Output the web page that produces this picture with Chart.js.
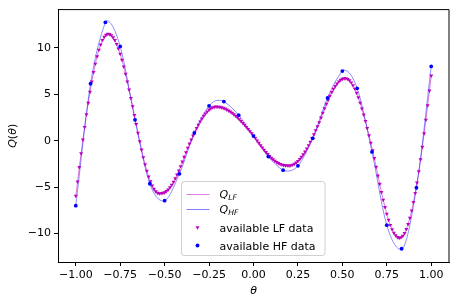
<!DOCTYPE html>
<html>
<head>
<meta charset="utf-8">
<script src="https://cdn.jsdelivr.net/npm/chart.js@4.4.1/dist/chart.umd.min.js"></script>
<style>
  body { margin: 0; background: #fff; }
  canvas { display: block; }
</style>
</head>
<body>
<canvas id="chart" width="457" height="307"></canvas>
<script>
// low fidelity samples, theta from -1 to 1 every 0.01
var lfQ = [
  -5.96, -4.41, -2.86, -1.38, 0.10, 1.47, 2.82, 4.07, 5.26, 6.36,
  7.37, 8.28, 9.08, 9.79, 10.35, 10.84, 11.18, 11.40, 11.50, 11.47,
  11.35, 11.13, 10.82, 10.41, 9.91, 9.34, 8.69, 7.97, 7.19, 6.36,
  5.49, 4.59, 3.68, 2.74, 1.78, 0.83, -0.08, -0.96, -1.79, -2.55,
  -3.25, -3.87, -4.40, -4.85, -5.20, -5.46, -5.62, -5.69, -5.67, -5.63,
  -5.57, -5.44, -5.27, -5.04, -4.77, -4.44, -4.07, -3.67, -3.23, -2.76,
  -2.27, -1.76, -1.25, -0.77, -0.33, 0.11, 0.53, 0.94, 1.34, 1.71,
  2.06, 2.38, 2.66, 2.92, 3.14, 3.33, 3.47, 3.58, 3.64, 3.66,
  3.65, 3.63, 3.58, 3.52, 3.45, 3.35, 3.24, 3.12, 2.98, 2.83,
  2.66, 2.49, 2.30, 2.11, 1.90, 1.69, 1.47, 1.24, 1.01, 0.78,
  0.55, 0.28, 0.01, -0.25, -0.51, -0.76, -1.00, -1.23, -1.45, -1.66,
  -1.85, -2.02, -2.17, -2.31, -2.42, -2.52, -2.59, -2.64, -2.67, -2.68,
  -2.69, -2.67, -2.60, -2.51, -2.38, -2.20, -2.00, -1.76, -1.49, -1.19,
  -0.86, -0.50, -0.12, 0.27, 0.68, 1.11, 1.54, 1.98, 2.48, 2.98,
  3.47, 3.95, 4.40, 4.82, 5.22, 5.57, 5.88, 6.15, 6.37, 6.54,
  6.65, 6.71, 6.71, 6.64, 6.50, 6.26, 5.96, 5.59, 5.15, 4.65,
  4.08, 3.46, 2.80, 2.09, 1.34, 0.56, -0.23, -1.05, -1.88, -2.82,
  -3.76, -4.67, -5.55, -6.39, -7.17, -7.88, -8.53, -9.09, -9.56, -9.94,
  -10.21, -10.39, -10.47, -10.43, -10.26, -9.96, -9.54, -8.99, -8.32, -7.54,
  -6.63, -5.64, -4.52, -3.32, -2.03, -0.68, 0.78, 2.25, 3.79, 5.38,
  7.00
];
var lfTheta = [];
for (var i = 0; i < lfQ.length; i++) lfTheta.push(Math.round((-1 + i * 0.01) * 100) / 100);

// high fidelity samples
var hfTheta = [-1, -0.9167, -0.8333, -0.75, -0.6667, -0.5833, -0.5, -0.4167, -0.3333, -0.25,
  -0.1667, -0.0833, 0, 0.0833, 0.1667, 0.25, 0.3333, 0.4167, 0.5, 0.5833,
  0.6667, 0.75, 0.8333, 0.9167, 1];
var hfQ = [-7.0, 6.14, 12.75, 10.15, 2.25, -4.64, -6.46, -3.57, 0.82, 3.75,
  4.21, 2.75, 0.5, -1.71, -3.18, -2.71, 0.25, 4.61, 7.5, 5.64,
  -1.21, -9.1, -11.64, -5.07, 8.0];

// the Q_HF curve: the samples plus the turning points
var hfLineTheta = [-1, -0.9167, -0.8333, -0.826, -0.75, -0.6667, -0.5833, -0.507, -0.4167, -0.3333,
  -0.25, -0.2, -0.1667, -0.0833, 0, 0.0833, 0.1667, 0.19, 0.25, 0.3333,
  0.4167, 0.5, 0.51, 0.5833, 0.6667, 0.75, 0.83, 0.9167, 1];
var hfLineQ = [-7.0, 6.14, 12.75, 12.93, 10.15, 2.25, -4.64, -6.5, -3.57, 0.82,
  3.75, 4.35, 4.21, 2.75, 0.5, -1.71, -3.18, -3.27, -2.71, 0.25,
  4.61, 7.5, 7.6, 5.64, -1.21, -9.1, -11.72, -5.07, 8.0];

var xTicks = [-1, -0.75, -0.5, -0.25, 0, 0.25, 0.5, 0.75, 1];
var yTicks = [-10, -5, 0, 5, 10];

function pts(xs, ys) {
  var out = [];
  for (var i = 0; i < xs.length; i++) out.push({x: xs[i], y: ys[i]});
  return out;
}
function fmt(v, d) {
  var s = d ? v.toFixed(d) : String(v);
  return s.replace('-', '\u2212');
}

var FONT = '"DejaVu Sans"';
var lfLineColor = 'rgba(191,0,191,0.5)';
var hfLineColor = 'rgba(0,0,255,0.5)';
var hfDotRadius = 1.9;

// draws the frame, the axis titles and the legend
var decor = {
  id: 'decor',
  afterDraw: function(chart) {
    var ctx = chart.ctx, a = chart.chartArea;
    ctx.save();
    ctx.strokeStyle = '#000';
    ctx.lineWidth = 1;
    ctx.beginPath();
    ctx.moveTo(a.left, a.top);
    ctx.lineTo(a.right, a.top);
    ctx.lineTo(a.right, a.bottom);
    ctx.stroke();

    ctx.fillStyle = '#000';
    // x title
    ctx.font = 'italic 11px ' + FONT;
    ctx.textAlign = 'center';
    ctx.textBaseline = 'middle';
    ctx.fillText('\u03b8', (a.left + a.right) / 2, 291.5);

    // y title Q(θ)
    ctx.save();
    ctx.translate(13.5, (a.top + a.bottom) / 2);
    ctx.rotate(-Math.PI / 2);
    var parts = [['Q', 'italic '], ['(', ''], ['\u03b8', 'italic '], [')', '']];
    var total = 0;
    parts.forEach(function(p) { ctx.font = p[1] + '11px ' + FONT; total += ctx.measureText(p[0]).width; });
    var cx = -total / 2;
    ctx.textAlign = 'left';
    parts.forEach(function(p) {
      ctx.font = p[1] + '11px ' + FONT;
      ctx.fillText(p[0], cx, 0);
      cx += ctx.measureText(p[0]).width;
    });
    ctx.restore();

    // legend box
    var bx = 181.5, by = 181.5, bw = 143.5, bh = 74, r = 2.5;
    ctx.beginPath();
    ctx.moveTo(bx + r, by);
    ctx.arcTo(bx + bw, by, bx + bw, by + bh, r);
    ctx.arcTo(bx + bw, by + bh, bx, by + bh, r);
    ctx.arcTo(bx, by + bh, bx, by, r);
    ctx.arcTo(bx, by, bx + bw, by, r);
    ctx.closePath();
    ctx.fillStyle = 'rgba(255,255,255,0.8)';
    ctx.fill();
    ctx.strokeStyle = '#d0d0d0';
    ctx.stroke();

    // legend lines
    ctx.lineWidth = 1;
    ctx.strokeStyle = lfLineColor;
    ctx.beginPath(); ctx.moveTo(186.5, 194.5); ctx.lineTo(209.5, 194.5); ctx.stroke();
    ctx.strokeStyle = hfLineColor;
    ctx.beginPath(); ctx.moveTo(186.5, 209.5); ctx.lineTo(209.5, 209.5); ctx.stroke();

    // legend markers
    Chart.helpers.drawPoint(ctx, {pointStyle: 'triangle', radius: 2.3, rotation: 180, borderWidth: 0}, 197.5, 227.5);
    ctx.fillStyle = '#bf00bf';
    ctx.fill();
    ctx.beginPath();
    ctx.arc(197.5, 245.5, hfDotRadius, 0, Math.PI * 2);
    ctx.fillStyle = '#0000ff';
    ctx.fill();

    // legend texts
    ctx.fillStyle = '#000';
    ctx.textAlign = 'left';
    ctx.textBaseline = 'alphabetic';
    function qsub(x, y, sub) {
      ctx.font = 'italic 11px ' + FONT;
      ctx.fillText('Q', x, y);
      var w = ctx.measureText('Q').width;
      ctx.font = 'italic 7.7px ' + FONT;
      ctx.fillText(sub, x + w, y + 2);
    }
    qsub(219.5, 197.5, 'LF');
    qsub(219.5, 212.5, 'HF');
    ctx.font = '11px ' + FONT;
    ctx.fillText('available LF data', 219.5, 231.5);
    ctx.fillText('available HF data', 219.5, 249.5);
    ctx.restore();
  }
};

var tickFont = {family: 'DejaVu Sans', size: 11};

var ctx = document.getElementById('chart').getContext('2d');
var chart = new Chart(ctx, {
  type: 'scatter',
  data: {
    datasets: [
      {
        label: 'available HF data',
        data: pts(hfTheta, hfQ),
        showLine: false,
        pointStyle: 'circle',
        pointRadius: hfDotRadius,
        pointBorderWidth: 0,
        pointBackgroundColor: '#0000ff',
        order: 0
      },
      {
        label: 'available LF data',
        data: pts(lfTheta, lfQ),
        showLine: false,
        pointStyle: 'triangle',
        rotation: 180,
        pointRadius: 2.3,
        pointBorderWidth: 0,
        pointBackgroundColor: '#bf00bf',
        order: 1
      },
      {
        label: 'Q_HF',
        data: pts(hfLineTheta, hfLineQ),
        showLine: true,
        pointRadius: 0,
        borderColor: hfLineColor,
        borderWidth: 0.9,
        cubicInterpolationMode: 'monotone',
        order: 2
      },
      {
        label: 'Q_LF',
        data: pts(lfTheta, lfQ),
        showLine: true,
        pointRadius: 0,
        borderColor: lfLineColor,
        borderWidth: 1,
        order: 3
      }
    ]
  },
  options: {
    responsive: false,
    animation: false,
    devicePixelRatio: 1,
    layout: {padding: {top: 8, right: 8, left: 0, bottom: 0}},
    plugins: {legend: {display: false}, tooltip: {enabled: false}},
    scales: {
      x: {
        type: 'linear',
        min: -1.1,
        max: 1.1,
        afterFit: function(s) { s.height = 45; },
        afterBuildTicks: function(s) { s.ticks = xTicks.map(function(v) { return {value: v}; }); },
        ticks: {callback: function(v) { return fmt(v, 2); }, font: tickFont, color: '#000', padding: 3, maxRotation: 0, autoSkip: false},
        grid: {drawOnChartArea: false, drawTicks: true, tickLength: 4, color: '#000'},
        border: {color: '#000', width: 1}
      },
      y: {
        type: 'linear',
        min: -13.07,
        max: 14.12,
        afterFit: function(s) { s.width = 58; },
        afterBuildTicks: function(s) { s.ticks = yTicks.map(function(v) { return {value: v}; }); },
        ticks: {callback: function(v) { return fmt(v, 0); }, font: tickFont, color: '#000', padding: 3, autoSkip: false},
        grid: {drawOnChartArea: false, drawTicks: true, tickLength: 4, color: '#000'},
        border: {color: '#000', width: 1}
      }
    }
  },
  plugins: [decor]
});
</script>
</body>
</html>
